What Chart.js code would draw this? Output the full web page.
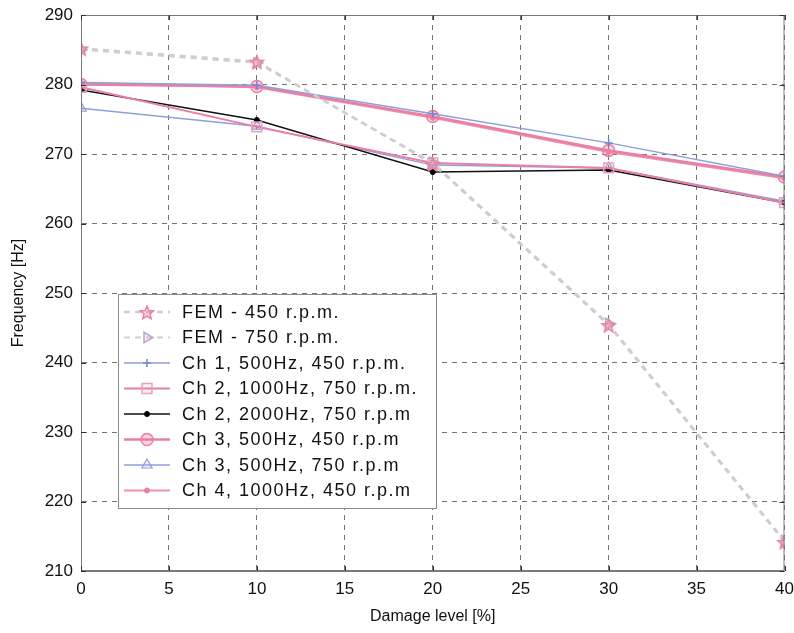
<!DOCTYPE html>
<html>
<head>
<meta charset="utf-8">
<script src="https://cdn.jsdelivr.net/npm/chart.js@4.4.0/dist/chart.umd.min.js"></script>
<style>
    html, body { margin: 0; padding: 0; background: #fff; }
    #wrap { width: 794px; height: 633px; }
</style>
</head>
<body>
<div id="wrap"><canvas id="freqChart" width="794" height="633"></canvas></div>
<script>
// Data
const damage = [0, 10, 20, 30, 40];
const fem450 = [285.2, 283.3, 268.6, 245.4, 214.2];
const fem750 = [285.0, 283.1, 268.8, 245.6, 214.4];
const ch1_500_450 = [280.3, 279.9, 275.8, 271.6, 266.8];
const ch2_1000_750 = [279.6, 273.9, 268.7, 268.0, 263.0];
const ch2_2000_750 = [279.2, 274.9, 267.4, 267.7, 263.0];
const ch3_500_450 = [280.0, 279.7, 275.4, 270.5, 266.7];
const ch3_500_750 = [276.6, 274.0, 268.4, 268.0, 263.2];
const ch4_1000_450 = [280.2, 279.6, 275.2, 270.3, 266.5];

const seriesLabels = [
    'FEM - 450 r.p.m.',
    'FEM - 750 r.p.m.',
    'Ch 1, 500Hz, 450 r.p.m.',
    'Ch 2, 1000Hz, 750 r.p.m.',
    'Ch 2, 2000Hz, 750 r.p.m',
    'Ch 3, 500Hz, 450 r.p.m',
    'Ch 3, 500Hz, 750 r.p.m',
    'Ch 4, 1000Hz, 450 r.p.m'
];

const xTicks = [0, 5, 10, 15, 20, 25, 30, 35, 40];
const yTicks = [210, 220, 230, 240, 250, 260, 270, 280, 290];

const PINK = '#ea7fa3';
const BLUE = '#8f9fd8';
const FONT = '"Liberation Sans", Arial, sans-serif';

// Pentagram marker for the FEM 450 series
function makeStar(color, r) {
    const c = document.createElement('canvas');
    const s = r * 2 + 4;
    c.width = s;
    c.height = s;
    const g = c.getContext('2d');
    g.translate(s / 2, s / 2 + 1);
    g.beginPath();
    for (let i = 0; i < 10; i++) {
        const rr = i % 2 ? r * 0.45 : r;
        const a = -Math.PI / 2 + i * Math.PI / 5;
        g.lineTo(rr * Math.cos(a), rr * Math.sin(a));
    }
    g.closePath();
    g.fillStyle = 'rgba(234,127,163,0.35)';
    g.fill();
    g.strokeStyle = color;
    g.lineWidth = 1.5;
    g.stroke();
    return c;
}

function pts(values) {
    return values.map((v, i) => ({ x: damage[i], y: v }));
}

const datasets = [
    {
        label: seriesLabels[0], data: pts(fem450),
        borderColor: '#d0cad2', borderWidth: 2.5, borderDash: [6, 5],
        pointStyle: makeStar(PINK, 7), pointRadius: 7,
        pointBorderColor: PINK, pointBackgroundColor: 'rgba(0,0,0,0)'
    },
    {
        label: seriesLabels[1], data: pts(fem750),
        borderColor: '#d2cdd8', borderWidth: 2, borderDash: [6, 5],
        pointStyle: 'triangle', pointRotation: 90, pointRadius: 6, pointBorderWidth: 1.5,
        pointBorderColor: '#b7a6cf', pointBackgroundColor: 'rgba(234,127,163,0.15)'
    },
    {
        label: seriesLabels[2], data: pts(ch1_500_450),
        borderColor: BLUE, borderWidth: 1.5,
        pointStyle: 'cross', pointRadius: 4, pointBorderWidth: 1.5,
        pointBorderColor: '#7285cc', pointBackgroundColor: '#7285cc'
    },
    {
        label: seriesLabels[3], data: pts(ch2_1000_750),
        borderColor: PINK, borderWidth: 2,
        pointStyle: 'rect', pointRadius: 7, pointBorderWidth: 1.5,
        pointBorderColor: '#e9a2bd', pointBackgroundColor: 'rgba(234,127,163,0.12)'
    },
    {
        label: seriesLabels[4], data: pts(ch2_2000_750),
        borderColor: '#111', borderWidth: 1.5,
        pointStyle: 'circle', pointRadius: 2.5, pointBorderWidth: 1,
        pointBorderColor: '#000', pointBackgroundColor: '#000'
    },
    {
        label: seriesLabels[5], data: pts(ch3_500_450),
        borderColor: PINK, borderWidth: 2.5,
        pointStyle: 'circle', pointRadius: 6, pointBorderWidth: 1.5,
        pointBorderColor: PINK, pointBackgroundColor: 'rgba(234,127,163,0.35)'
    },
    {
        label: seriesLabels[6], data: pts(ch3_500_750),
        borderColor: BLUE, borderWidth: 1.5,
        pointStyle: 'triangle', pointRadius: 6, pointBorderWidth: 1.2,
        pointBorderColor: BLUE, pointBackgroundColor: 'rgba(143,159,216,0.12)'
    },
    {
        label: seriesLabels[7], data: pts(ch4_1000_450),
        borderColor: '#ef8fb0', borderWidth: 2,
        pointStyle: 'circle', pointRadius: 2.5, pointBorderWidth: 1,
        pointBorderColor: PINK, pointBackgroundColor: PINK
    }
];

// Box on top/right plus small inward ticks, MATLAB style
const boxPlugin = {
    id: 'boxPlugin',
    afterDatasetsDraw(chart) {
        const { ctx, chartArea: a, scales } = chart;
        ctx.save();
        ctx.strokeStyle = '#7a7a7a';
        ctx.lineWidth = 1;
        ctx.strokeRect(a.left + 0.5, a.top + 0.5, a.right - a.left - 1, a.bottom - a.top - 1);
        ctx.strokeStyle = '#333';
        xTicks.forEach(t => {
            const x = Math.round(scales.x.getPixelForValue(t)) + 0.5;
            ctx.beginPath();
            ctx.moveTo(x, a.bottom); ctx.lineTo(x, a.bottom - 5);
            ctx.moveTo(x, a.top); ctx.lineTo(x, a.top + 5);
            ctx.stroke();
        });
        yTicks.forEach(t => {
            const y = Math.round(scales.y.getPixelForValue(t)) + 0.5;
            ctx.beginPath();
            ctx.moveTo(a.left, y); ctx.lineTo(a.left + 5, y);
            ctx.moveTo(a.right, y); ctx.lineTo(a.right - 5, y);
            ctx.stroke();
        });
        ctx.restore();
    }
};

// Legend drawn inside the plot area
const legendPlugin = {
    id: 'insideLegend',
    afterDraw(chart) {
        const ctx = chart.ctx;
        const left = 118, top = 294, right = 436, bottom = 508;
        const rowH = 25.5, firstRow = 312;
        ctx.save();
        ctx.fillStyle = '#fff';
        ctx.fillRect(left, top, right - left, bottom - top);
        ctx.strokeStyle = '#8a8a8a';
        ctx.lineWidth = 1;
        ctx.strokeRect(left + 0.5, top + 0.5, right - left, bottom - top);

        chart.data.datasets.forEach((ds, i) => {
            const y = firstRow + i * rowH;
            ctx.save();
            ctx.strokeStyle = ds.borderColor;
            ctx.lineWidth = ds.borderWidth;
            ctx.setLineDash(ds.borderDash || []);
            ctx.beginPath();
            ctx.moveTo(124, y);
            ctx.lineTo(170, y);
            ctx.stroke();
            ctx.setLineDash([]);
            ctx.strokeStyle = ds.pointBorderColor;
            ctx.fillStyle = ds.pointBackgroundColor;
            ctx.lineWidth = ds.pointBorderWidth || 1;
            Chart.helpers.drawPoint(ctx, {
                pointStyle: ds.pointStyle,
                rotation: ds.pointRotation || 0,
                radius: ds.pointRadius,
                borderWidth: ds.pointBorderWidth || 1
            }, 147, y);
            ctx.restore();

            ctx.fillStyle = '#111';
            ctx.font = '18px ' + FONT;
            ctx.letterSpacing = '1.5px';
            ctx.textBaseline = 'middle';
            ctx.fillText(ds.label, 182, y + 1);
        });
        ctx.restore();
    }
};

new Chart(document.getElementById('freqChart'), {
    type: 'line',
    data: { datasets: datasets },
    options: {
        responsive: false,
        animation: false,
        layout: { padding: { top: 15, right: 7, bottom: 0, left: 0 } },
        plugins: {
            legend: { display: false },
            tooltip: { enabled: false }
        },
        scales: {
            x: {
                type: 'linear',
                min: 0,
                max: 40,
                afterBuildTicks: s => { s.ticks = xTicks.map(v => ({ value: v })); },
                afterFit: s => { s.height = 62; s.paddingLeft = 0; s.paddingRight = 0; },
                ticks: {
                    padding: 8,
                    color: '#111',
                    font: { family: FONT, size: 17 },
                    maxRotation: 0
                },
                grid: { color: 'rgba(0,0,0,0.55)', lineWidth: 1, drawTicks: false },
                border: { display: true, color: '#7a7a7a', width: 1, dash: [5, 5] },
                title: {
                    display: true,
                    text: 'Damage level [%]',
                    color: '#111',
                    font: { family: FONT, size: 16 },
                    padding: { top: 0, bottom: 7 }
                }
            },
            y: {
                min: 210,
                max: 290,
                afterBuildTicks: s => { s.ticks = yTicks.map(v => ({ value: v })); },
                afterFit: s => { s.width = 81; s.paddingTop = 0; s.paddingBottom = 0; },
                ticks: {
                    padding: 8,
                    color: '#111',
                    font: { family: FONT, size: 17 }
                },
                grid: { color: 'rgba(0,0,0,0.55)', lineWidth: 1, drawTicks: false },
                border: { display: true, color: '#7a7a7a', width: 1, dash: [5, 5] },
                title: {
                    display: true,
                    text: 'Frequency [Hz]',
                    color: '#111',
                    font: { family: FONT, size: 16 },
                    padding: { top: 9, bottom: 0 }
                }
            }
        }
    },
    plugins: [boxPlugin, legendPlugin]
});
</script>
</body>
</html>
